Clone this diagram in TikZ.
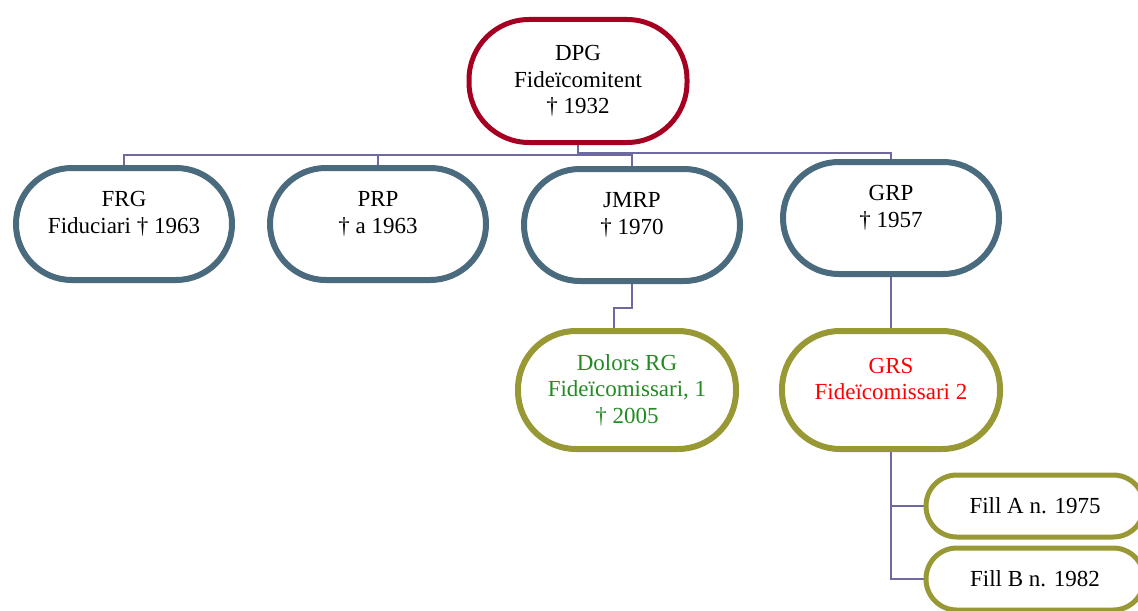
\documentclass[tikz,border=0pt]{standalone}
\usepackage{fontspec}
\setmainfont{Liberation Serif}
\usepackage{tikz}
\usetikzlibrary{backgrounds}

\definecolor{topred}{RGB}{165,0,33}
\definecolor{slate}{RGB}{74,106,126}
\definecolor{heirolive}{RGB}{152,152,52}
\definecolor{linkblue}{RGB}{110,105,160}
\definecolor{heirgreen}{RGB}{34,139,34}

\begin{document}
\begin{tikzpicture}[x=0.5pt,y=-0.5pt,
		txt/.style={align=center,font=\fontsize{11.5}{13.3}\selectfont},
		box/.style={draw,fill=white,inner sep=0pt,line width=3pt,rounded corners=27.9pt,
			minimum width=108pt,minimum height=56pt},
		founder/.style={box,txt,draw=topred,line width=2.5pt,rounded corners=30pt,
			minimum width=109pt,minimum height=61.5pt},
		child/.style={box,draw=slate},
		heir/.style={box,draw=heirolive,rounded corners=29pt,minimum width=109pt,minimum height=59pt},
		grandchild/.style={box,txt,draw=heirolive,line width=2.5pt,rounded corners=15.4pt,
			minimum width=109pt,minimum height=31pt},
		link/.style={draw=linkblue,line width=1pt}]
		\useasboundingbox (0,0) rectangle (1138,610);

		% Founder
		\node[founder] (dpg) at (578,81) {DPG\\Fideïcomitent\\† 1932};

		% Children
		\node[child] (frg) at (124,224) {};
		\node[child] (prp) at (378,224) {};
		\node[child] (jmrp) at (632,225) {};
		\node[child] (grp) at (891,218) {};
		\node[txt] (frgtext) at ([yshift=5pt]frg.center) {FRG\\Fiduciari † 1963};
		\node[txt] (prptext) at ([yshift=5pt]prp.center) {PRP\\† a 1963};
		\node[txt] (jmrptext) at ([yshift=5pt]jmrp.center) {JMRP\\† 1970};
		\node[txt] (grptext) at ([yshift=5pt]grp.center) {GRP\\† 1957};

		% Heirs
		\node[heir] (dolors) at (627,390) {};
		\node[heir] (grs) at (891,390) {};
		\node[txt,text=heirgreen] (dolorstext) at (dolors.center) {Dolors RG\\Fideïcomissari, 1\\† 2005};
		\node[txt,text=red] (grstext) at ([yshift=5.5pt]grs.center) {GRS\\Fideïcomissari 2};

		% Grandchildren
		\node[grandchild] (filla) at (1035,506) {Fill A n. 1975};
		\node[grandchild] (fillb) at (1035,579) {Fill B n. 1982};

		% Connectors
		\begin{scope}[on background layer]
			\coordinate (bus) at (0,155);
			\coordinate (busg) at (0,153);
			\draw[link] (dpg.south) -- (dpg.south |- bus) -| (frg.north);
			\draw[link] (dpg.south |- bus) -| (prp.north);
			\draw[link] (dpg.south |- bus) -| (jmrp.north);
			\draw[link] (dpg.south |- busg) -| (grp.north);
			\draw[link] (jmrp.south) -- ++(0,24) -| ([xshift=-6.5pt]dolors.north);
			\draw[link] (grp.south) -- (grs.north);
			\draw[link] (grs.south) |- (filla.west);
			\draw[link] (grs.south) |- (fillb.west);
		\end{scope}
	\end{tikzpicture}
\end{document}
